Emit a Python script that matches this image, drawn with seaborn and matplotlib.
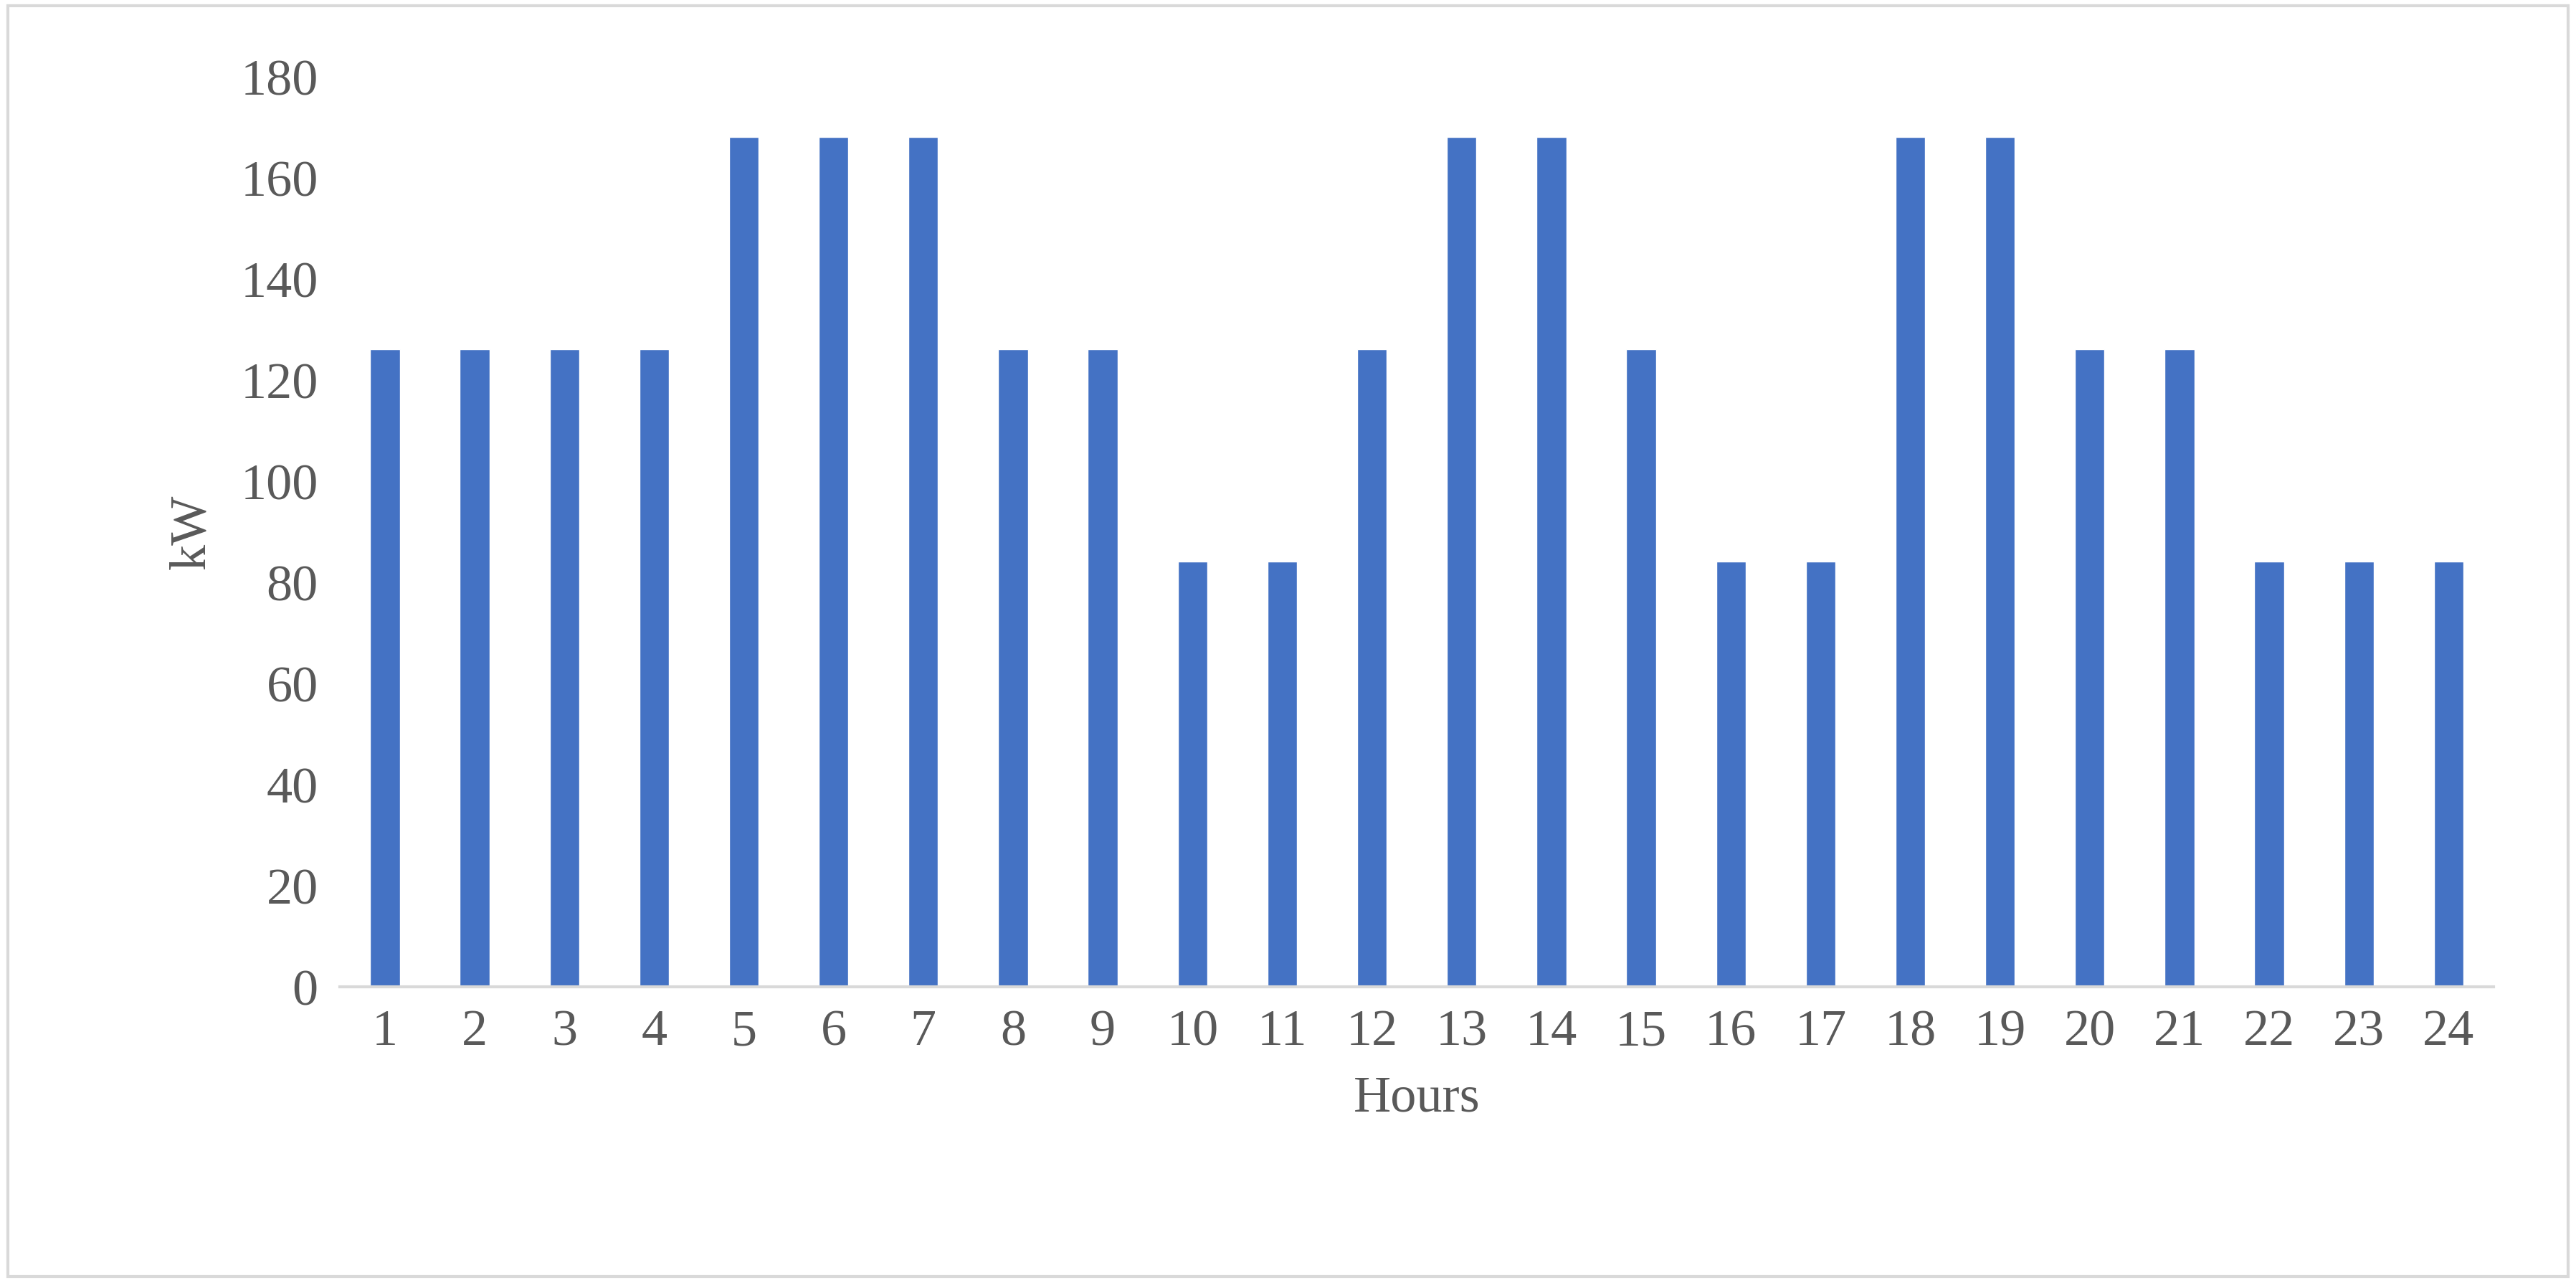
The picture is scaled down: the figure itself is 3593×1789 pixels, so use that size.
import matplotlib
matplotlib.use("Agg")
import matplotlib.pyplot as plt
import seaborn as sns
import pandas as pd
from matplotlib.patches import Rectangle

hours = [str(h) for h in range(1, 25)]
kw = [126, 126, 126, 126, 168, 168, 168, 126, 126, 84, 84, 126,
      168, 168, 126, 84, 84, 168, 168, 126, 126, 84, 84, 84]

sns.set_theme(style="white")
plt.rcParams['font.family'] = ['Liberation Serif', 'DejaVu Serif']

fig = plt.figure(figsize=(35.93, 17.90), dpi=100)
ax = fig.add_axes([0.132, 0.231, 0.836, 0.709])
df = pd.DataFrame({"Hours": hours, "kW": kw})
sns.barplot(data=df, x="Hours", y="kW", color="#4472C4", saturation=1, width=0.33, ax=ax)
ax.set_ylim(0, 180)
ax.set_yticks(range(0, 181, 20))
ax.set_xlim(-0.5, 23.5)
gray = "#595959"
ax.tick_params(axis='both', labelsize=52, colors=gray, length=0, pad=22)
ax.set_xlabel("Hours", fontsize=52, color=gray, labelpad=20)
ax.set_ylabel("kW", fontsize=52, color=gray, labelpad=25)
for s in ["top", "right", "left"]:
    ax.spines[s].set_visible(False)
ax.spines["bottom"].set_color("#D9D9D9")
ax.spines["bottom"].set_linewidth(3)
fig.patches.append(Rectangle((0.003, 0.005), 0.994, 0.99, transform=fig.transFigure,
                             fill=False, edgecolor="#D9D9D9", linewidth=3))
fig.savefig("out.png", dpi=100)
